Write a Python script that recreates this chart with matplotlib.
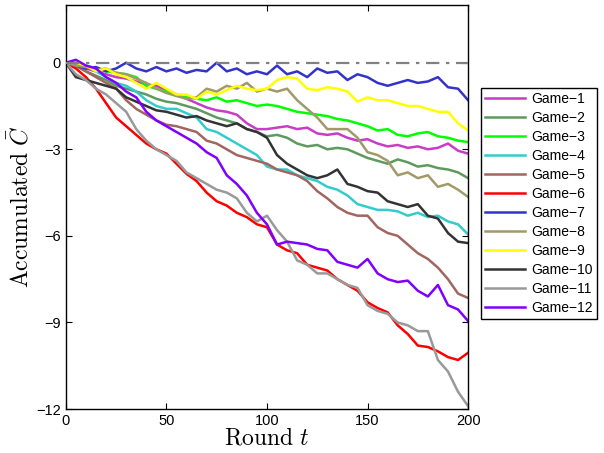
import matplotlib
matplotlib.use("Agg")
import matplotlib.pyplot as plt
import numpy as np

rounds = list(range(0, 201, 5))

game1 = [0, -0.1, -0.2, -0.3, -0.4, -0.5, -0.55, -0.65, -0.75, -0.8, -0.95, -1.1, -1.25, -1.4, -1.55, -1.65, -1.7, -1.8, -2.1, -2.3, -2.3, -2.25, -2.2, -2.3, -2.25, -2.45, -2.5, -2.45, -2.6, -2.7, -2.65, -2.8, -2.9, -2.85, -2.95, -2.9, -3.0, -2.95, -2.8, -3.05, -3.15]
game2 = [0, -0.1, -0.3, -0.45, -0.6, -0.8, -0.9, -1.0, -1.1, -1.25, -1.35, -1.4, -1.5, -1.6, -1.75, -1.9, -2.0, -2.1, -2.3, -2.4, -2.55, -2.5, -2.6, -2.8, -2.9, -2.85, -3.0, -2.95, -3.0, -3.15, -3.3, -3.4, -3.5, -3.35, -3.45, -3.6, -3.55, -3.65, -3.7, -3.8, -4.0]
game3 = [0, -0.05, -0.1, -0.2, -0.3, -0.35, -0.4, -0.5, -0.8, -0.9, -1.0, -1.15, -1.2, -1.25, -1.3, -1.2, -1.35, -1.3, -1.4, -1.5, -1.45, -1.5, -1.6, -1.7, -1.75, -1.8, -1.85, -1.95, -2.0, -2.1, -2.2, -2.35, -2.3, -2.5, -2.55, -2.45, -2.4, -2.55, -2.6, -2.7, -2.75]
game4 = [0, 0.0, -0.1, -0.3, -0.5, -0.7, -0.8, -1.0, -1.3, -1.5, -1.6, -1.6, -1.75, -1.9, -2.3, -2.4, -2.6, -2.8, -3.0, -3.2, -3.6, -3.7, -3.7, -3.9, -4.0, -4.1, -4.3, -4.4, -4.6, -4.9, -5.0, -5.1, -5.1, -5.15, -5.3, -5.2, -5.35, -5.3, -5.5, -5.6, -5.95]
game5 = [0, -0.1, -0.3, -0.5, -0.7, -0.9, -1.3, -1.6, -1.8, -2.0, -2.15, -2.2, -2.3, -2.4, -2.7, -2.8, -3.0, -3.2, -3.3, -3.4, -3.5, -3.7, -3.8, -3.9, -4.1, -4.45, -4.7, -5.0, -5.2, -5.3, -5.3, -5.7, -5.9, -6.0, -6.3, -6.6, -6.8, -7.1, -7.5, -8.0, -8.15]
game6 = [0, -0.2, -0.5, -0.9, -1.4, -1.9, -2.2, -2.5, -2.8, -3.0, -3.15, -3.5, -3.85, -4.1, -4.5, -4.8, -4.95, -5.2, -5.35, -5.6, -5.7, -6.3, -6.5, -6.6, -7.0, -7.1, -7.2, -7.5, -7.7, -7.9, -8.3, -8.5, -8.65, -9.1, -9.4, -9.8, -9.85, -10.0, -10.2, -10.3, -10.05]
game7 = [0, -0.1, -0.2, -0.15, -0.3, -0.2, 0.0, -0.2, -0.3, -0.15, -0.3, -0.2, -0.35, -0.25, -0.3, 0.0, -0.3, -0.2, -0.4, -0.3, -0.4, -0.1, -0.4, -0.3, -0.5, -0.2, -0.35, -0.3, -0.6, -0.4, -0.5, -0.7, -0.8, -0.7, -0.6, -0.7, -0.65, -0.5, -0.85, -0.9, -1.3]
game8 = [0, -0.1, -0.15, -0.25, -0.2, -0.35, -0.4, -0.55, -0.7, -0.9, -1.05, -1.15, -1.25, -1.2, -0.9, -1.0, -0.8, -0.9, -0.7, -1.0, -0.9, -1.0, -0.9, -1.3, -1.6, -1.9, -2.3, -2.3, -2.3, -2.6, -3.1, -3.2, -3.4, -3.9, -3.8, -4.0, -3.9, -4.3, -4.2, -4.4, -4.65]
game9 = [0, 0.0, -0.1, -0.3, -0.2, -0.4, -0.5, -0.7, -0.9, -0.7, -0.9, -1.1, -1.1, -1.25, -1.0, -1.1, -0.95, -0.8, -0.9, -0.95, -0.9, -0.6, -0.5, -0.55, -0.9, -0.95, -0.85, -0.9, -1.0, -1.35, -1.2, -1.3, -1.3, -1.4, -1.5, -1.5, -1.6, -1.7, -1.7, -2.1, -2.35]
game10 = [0, -0.5, -0.6, -0.7, -0.8, -0.9, -1.2, -1.35, -1.5, -1.65, -1.7, -1.8, -1.9, -1.85, -2.0, -2.1, -2.2, -2.1, -2.3, -2.4, -2.6, -3.2, -3.5, -3.7, -3.9, -4.0, -3.9, -3.7, -4.2, -4.3, -4.45, -4.5, -4.8, -4.9, -5.0, -4.9, -5.3, -5.4, -5.9, -6.2, -6.25]
game11 = [0, -0.4, -0.6, -0.9, -1.1, -1.4, -1.7, -2.3, -2.7, -3.0, -3.2, -3.4, -3.8, -4.0, -4.2, -4.4, -4.5, -4.7, -5.2, -5.5, -5.3, -5.8, -6.2, -6.85, -7.0, -7.3, -7.3, -7.5, -7.7, -7.8, -8.4, -8.6, -8.7, -9.0, -9.1, -9.3, -9.3, -10.3, -10.7, -11.4, -11.9]
game12 = [0, 0.1, -0.1, -0.2, -0.5, -0.7, -1.0, -1.2, -1.7, -2.0, -2.2, -2.4, -2.6, -2.8, -3.1, -3.3, -3.9, -4.2, -4.6, -5.2, -5.6, -6.3, -6.2, -6.25, -6.3, -6.45, -6.5, -6.9, -7.0, -7.1, -6.8, -7.3, -7.5, -7.6, -7.55, -7.9, -8.1, -7.7, -8.4, -8.55, -8.95]

labels = ["Game\u22121", "Game\u22122", "Game\u22123", "Game\u22124", "Game\u22125", "Game\u22126",
          "Game\u22127", "Game\u22128", "Game\u22129", "Game\u221210", "Game\u221211", "Game\u221212"]
series = [game1, game2, game3, game4, game5, game6, game7, game8, game9, game10, game11, game12]
colors = ["#C83CC8", "#5E9A5E", "#00FF00", "#33CCCC", "#A0665F", "#FF0000",
          "#3333CC", "#A09A6A", "#FFFF00", "#333333", "#999999", "#8000FF"]

x_ticks = [0, 50, 100, 150, 200]
y_ticks = [0, -3, -6, -9, -12]

plt.rcParams['mathtext.fontset'] = 'cm'
plt.rcParams['font.family'] = ['Liberation Sans', 'DejaVu Sans']

fig = plt.figure(figsize=(6.04, 4.53), dpi=100)
ax = fig.add_axes([0.109, 0.097, 0.666, 0.892])

for y, c, lab in zip(series, colors, labels):
    ax.plot(rounds, y, color=c, lw=1.8, label=lab)

ax.plot([0, 200], [0, 0], color="#808080", lw=1.6, ls=(0, (6, 3, 1.5, 3)), zorder=5)

ax.set_xlim(0, 200)
ax.set_ylim(-12, 2)
ax.set_xticks(x_ticks)
ax.set_yticks(y_ticks)
ax.set_yticklabels(["0", "\u22123", "\u22126", "\u22129", "\u221212"])
ax.tick_params(direction='in', top=True, right=True, labelsize=10.5, length=4, width=0.8)
for s in ax.spines.values():
    s.set_linewidth(1.0)

ax.set_xlabel(r'$\mathrm{Round}\ t$', fontsize=17, labelpad=0)
ax.set_ylabel(r'$\mathrm{Accumulated}\ \bar{C}$', fontsize=17, labelpad=2)

leg = ax.legend(loc='upper left', bbox_to_anchor=(0.796, 0.806), bbox_transform=fig.transFigure,
                borderaxespad=0, fancybox=False, framealpha=1, edgecolor='black', fontsize=10,
                handlelength=2.9, labelspacing=0.36, borderpad=0.3, handletextpad=0.45)
leg.get_frame().set_linewidth(1.0)

fig.savefig("out.png", dpi=100)
